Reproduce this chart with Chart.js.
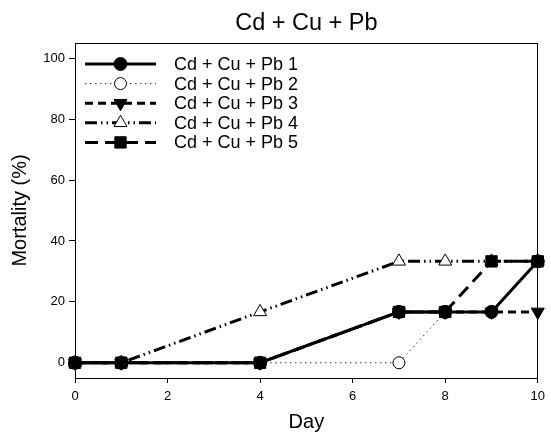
<!DOCTYPE html>
<html>
<head>
<meta charset="utf-8">
<script src="https://cdn.jsdelivr.net/npm/chart.js@4.4.1/dist/chart.umd.min.js"></script>
<style>
html,body{margin:0;padding:0;background:#fff;}
#wrap{width:551px;height:444px;}
</style>
</head>
<body>
<div id="wrap"><canvas id="c" width="551" height="444"></canvas></div>
<script>
const days = [0, 1, 4, 7, 8, 9, 10];
const seriesNames = ['Cd + Cu + Pb 1', 'Cd + Cu + Pb 2', 'Cd + Cu + Pb 3', 'Cd + Cu + Pb 4', 'Cd + Cu + Pb 5'];
const series1 = [0, 0, 0, 16.7, 16.7, 16.7, 33.3];
const series2 = [0, 0, 0, 0, 16.7, 16.7, 33.3];
const series3 = [0, 0, 0, 16.7, 16.7, 16.7, 16.7];
const series4 = [0, 0, 16.7, 33.3, 33.3, 33.3, 33.3];
const series5 = [0, 0, 0, 16.7, 16.7, 33.3, 33.3];
const xTicks = [0, 2, 4, 6, 8, 10];
const yTicks = [0, 20, 40, 60, 80, 100];
const chartTitle = 'Cd + Cu + Pb';
const xTitle = 'Day';
const yTitle = 'Mortality (%)';

const FONT = "'Liberation Sans', Arial, Helvetica, sans-serif";
const allSeries = [series1, series2, series3, series4, series5];
const styles = [
  {borderWidth: 3, borderDash: [], pointStyle: 'circle', pointRadius: 6.5, fill: '#000', pbw: 1, color: '#000'},
  {borderWidth: 1, borderDash: [1.5, 3.5], pointStyle: 'circle', pointRadius: 6, fill: '#fff', pbw: 1, color: '#333'},
  {borderWidth: 3, borderDash: [8, 5], pointStyle: 'triangle', pointRadius: 7.5, rotation: 180, fill: '#000', pbw: 1, color: '#000'},
  {borderWidth: 3, borderDash: [12, 4, 1.5, 4, 1.5, 4], pointStyle: 'triangle', pointRadius: 7.5, fill: '#fff', pbw: 1, color: '#000'},
  {borderWidth: 3, borderDash: [13, 7], pointStyle: 'rect', pointRadius: 8, fill: '#000', pbw: 1, color: '#000'}
];
// drawing order: lower = drawn later (on top)
const drawOrder = [3, 4, 2, 1, 0];

const datasets = allSeries.map((vals, i) => ({
  label: seriesNames[i],
  data: vals.map((v, j) => ({x: days[j], y: v})),
  borderColor: styles[i].color,
  borderWidth: styles[i].borderWidth,
  borderDash: styles[i].borderDash,
  borderCapStyle: 'butt',
  pointStyle: styles[i].pointStyle,
  pointRadius: styles[i].pointRadius,
  pointRotation: styles[i].rotation || 0,
  pointBackgroundColor: styles[i].fill,
  pointBorderColor: '#000',
  pointBorderWidth: styles[i].pbw,
  tension: 0,
  fill: false,
  clip: false,
  order: drawOrder[i]
}));

const framePlugin = {
  id: 'frame',
  beforeDatasetsDraw(chart) {
    const {ctx, chartArea: a} = chart;
    ctx.save();
    ctx.strokeStyle = '#000';
    ctx.lineWidth = 1;
    ctx.strokeRect(Math.round(a.left) + 0.5, Math.round(a.top) + 0.5, Math.round(a.right - a.left) - 1, Math.round(a.bottom - a.top));
    ctx.restore();
  }
};

function drawMarker(ctx, st, x, y) {
  const opts = {pointStyle: st.pointStyle, radius: st.pointRadius, rotation: st.rotation || 0, borderWidth: st.pbw};
  ctx.save();
  ctx.fillStyle = st.fill;
  ctx.strokeStyle = '#000';
  ctx.lineWidth = st.pbw;
  ctx.setLineDash([]);
  if (Chart.helpers && Chart.helpers.drawPoint) {
    Chart.helpers.drawPoint(ctx, opts, x, y);
  } else {
    ctx.beginPath(); ctx.arc(x, y, st.pointRadius, 0, Math.PI * 2); ctx.fill(); ctx.stroke();
  }
  ctx.restore();
}

const legendPlugin = {
  id: 'customLegend',
  afterDatasetsDraw(chart) {
    const {ctx} = chart;
    const x0 = 85, x1 = 156, xm = 120.5, xt = 174, y0 = 64, dy = 19.6;
    ctx.save();
    seriesNames.forEach((name, i) => {
      const st = styles[i];
      const y = y0 + i * dy;
      ctx.beginPath();
      ctx.strokeStyle = st.color;
      ctx.lineWidth = st.borderWidth;
      ctx.lineCap = 'butt';
      ctx.setLineDash(st.borderDash);
      ctx.moveTo(x0, y);
      ctx.lineTo(x1, y);
      ctx.stroke();
      drawMarker(ctx, st, xm, y);
      ctx.fillStyle = '#000';
      ctx.font = '18px ' + FONT;
      ctx.textBaseline = 'middle';
      ctx.textAlign = 'left';
      ctx.fillText(name, xt, y + 1);
    });
    ctx.restore();
  }
};

new Chart(document.getElementById('c'), {
  type: 'line',
  data: {datasets},
  plugins: [framePlugin, legendPlugin],
  options: {
    responsive: false,
    animation: false,
    devicePixelRatio: 1,
    layout: {padding: {left: 0, right: 10, top: 0, bottom: 0}},
    plugins: {
      legend: {display: false},
      tooltip: {enabled: false},
      title: {
        display: true,
        text: chartTitle,
        fullSize: false,
        color: '#000',
        font: {family: FONT, size: 23.5, weight: 'normal'},
        padding: {top: 9, bottom: 5.8}
      }
    },
    scales: {
      x: {
        type: 'linear',
        min: 0,
        max: 10,
        afterBuildTicks: s => { s.ticks = xTicks.map(v => ({value: v})); },
        afterFit: s => { s.height = 66; },
        ticks: {color: '#000', font: {family: FONT, size: 13}, padding: 6, maxRotation: 0},
        grid: {drawOnChartArea: false, drawTicks: true, tickLength: 5, tickColor: '#000', color: '#000'},
        border: {display: true, color: '#000', width: 1},
        title: {display: true, text: xTitle, color: '#000', font: {family: FONT, size: 20}, padding: {top: 0, bottom: 10}}
      },
      y: {
        type: 'linear',
        min: -5,
        max: 105,
        afterBuildTicks: s => { s.ticks = yTicks.map(v => ({value: v})); },
        afterFit: s => { s.width = 75; },
        ticks: {color: '#000', font: {family: FONT, size: 13}, padding: 4},
        grid: {drawOnChartArea: false, drawTicks: true, tickLength: 6, tickColor: '#000', color: '#000'},
        border: {display: true, color: '#000', width: 1},
        title: {display: true, text: yTitle, color: '#000', font: {family: FONT, size: 20}, padding: {top: 8, bottom: 0}}
      }
    }
  }
});
</script>
</body>
</html>
